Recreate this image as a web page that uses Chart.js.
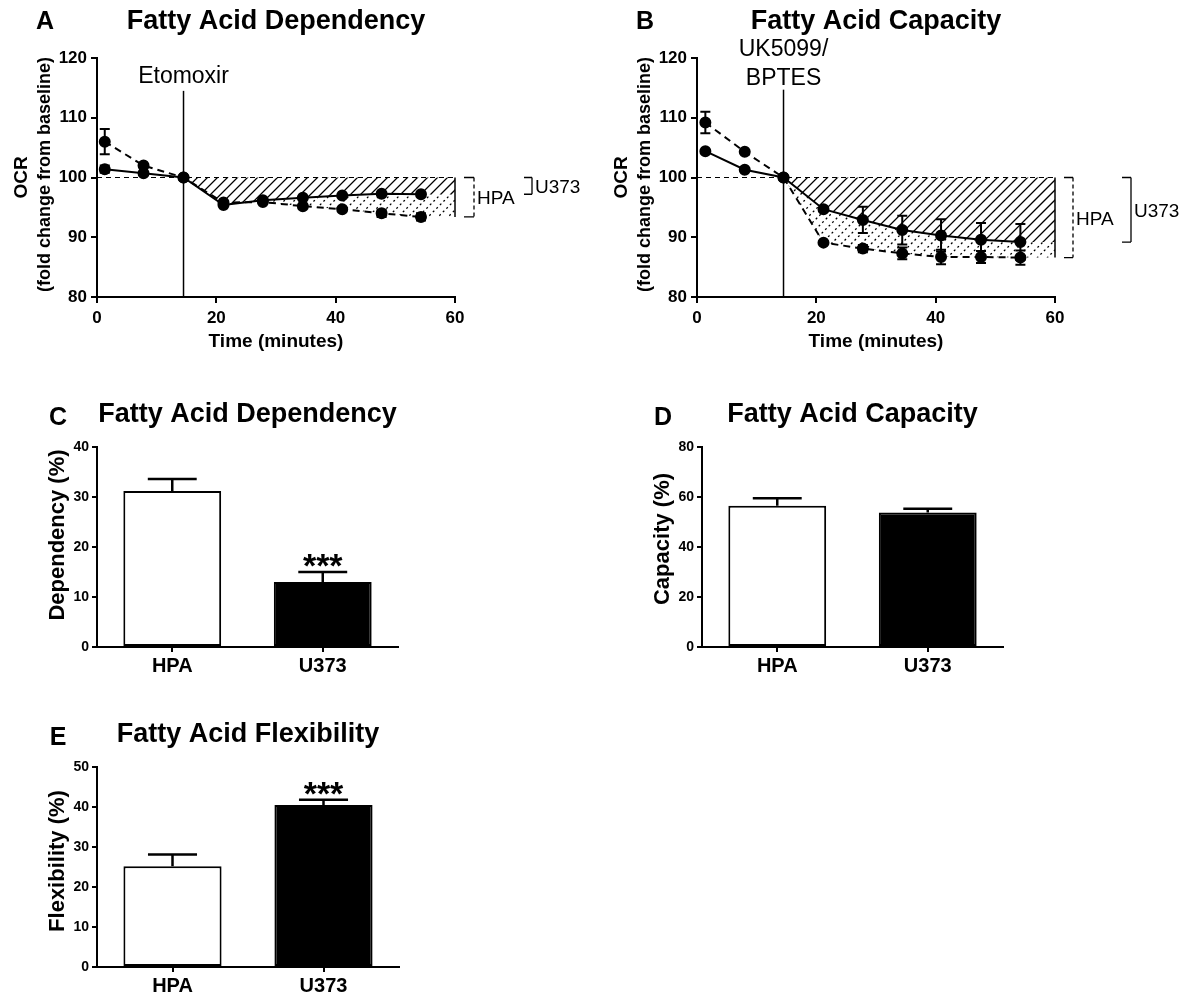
<!DOCTYPE html>
<html><head><meta charset="utf-8">
<script src="https://cdn.jsdelivr.net/npm/chart.js@4.4.1/dist/chart.umd.min.js"></script>
<style>
html,body{margin:0;padding:0;background:#fff;}
#wrap{position:relative;width:1189px;height:996px;overflow:hidden;background:#fff;}
canvas{position:absolute;left:0;top:0;}
</style></head><body>
<div id="wrap">
<canvas id="cA" width="1189" height="996"></canvas>
<canvas id="cB" width="1189" height="996"></canvas>
<canvas id="cC" width="1189" height="996"></canvas>
<canvas id="cD" width="1189" height="996"></canvas>
<canvas id="cE" width="1189" height="996"></canvas>
</div>
<script>
// ---------- data ----------
const timeA = [1.3, 7.8, 14.5, 21.2, 27.8, 34.5, 41.1, 47.7, 54.3];
const hpaA = [106.0, 102.0, 100.0, 95.8, 95.9, 95.2, 94.7, 94.0, 93.4];
const hpaAErr = [2.1, 0.4, 0, 0.3, 0.3, 0.4, 0.3, 0.6, 0.6];
const u373A = [101.4, 100.7, 100.0, 95.4, 96.2, 96.6, 97.0, 97.3, 97.2];
const u373AErr = [0.6, 0.3, 0, 0.3, 0.3, 0.4, 0.3, 0.3, 0.3];

const timeB = [1.4, 8.0, 14.5, 21.2, 27.8, 34.4, 40.9, 47.6, 54.2];
const hpaB = [109.2, 104.3, 100.0, 89.1, 88.1, 87.3, 86.7, 86.7, 86.6];
const hpaBErr = [1.8, 0.4, 0, 0.4, 0.6, 1.0, 1.2, 1.0, 1.2];
const u373B = [104.4, 101.3, 100.0, 94.7, 92.9, 91.2, 90.3, 89.6, 89.2];
const u373BErr = [0.3, 0.3, 0, 0.4, 2.2, 2.4, 2.7, 2.8, 3.0];

const injectionTime = 14.5;
const baselineValue = 100;
const timeTicks = [0, 20, 40, 60];
const ocrTicks = [80, 90, 100, 110, 120];

const cellLines = ['HPA', 'U373'];
const dependency = [31.2, 13.0];
const dependencyErr = [2.4, 2.0];
const dependencySig = ['', '***'];
const dependencyTicks = [0, 10, 20, 30, 40];

const capacity = [56.5, 53.8];
const capacityErr = [3.0, 1.5];
const capacitySig = ['', ''];
const capacityTicks = [0, 20, 40, 60, 80];

const flexibility = [25.2, 40.5];
const flexibilityErr = [2.9, 1.3];
const flexibilitySig = ['', '***'];
const flexibilityTicks = [0, 10, 20, 30, 40, 50];

// ---------- styling ----------
const FF = '"Liberation Sans", Arial, Helvetica, sans-serif';
const W = 1189, H = 996;

function tickSetter(arr) {
  return s => { s.ticks = arr.map(v => ({ value: v })); };
}

function drawText(ctx, txt, x, y, font, align, rot) {
  ctx.save();
  ctx.font = font;
  ctx.fillStyle = '#000';
  ctx.textAlign = align || 'center';
  ctx.textBaseline = 'middle';
  ctx.translate(x, y);
  if (rot) ctx.rotate(rot);
  ctx.fillText(txt, 0, 0);
  ctx.restore();
}

function hatch(ctx, area, pathFn, spacing, dash, lw) {
  ctx.save();
  ctx.beginPath(); pathFn(); ctx.closePath(); ctx.clip();
  ctx.beginPath();
  ctx.setLineDash(dash); ctx.lineWidth = lw; ctx.strokeStyle = '#000';
  const h = area.bottom - area.top;
  for (let x = area.left - h; x < area.right + h; x += spacing) {
    ctx.moveTo(x, area.bottom); ctx.lineTo(x + h, area.top);
  }
  ctx.stroke(); ctx.restore();
}

function linePanel(id, box, cfg) {
  const Wy = 60, Hx = 45;
  const mk = (t, v) => t.map((x, i) => ({ x: x, y: v[i] }));
  new Chart(document.getElementById(id), {
    type: 'line',
    data: {
      datasets: [
        { label: 'U373', data: mk(cfg.time, cfg.u373), borderColor: '#000', borderWidth: 2,
          pointRadius: 5, pointBackgroundColor: '#000', pointBorderColor: '#000', fill: false, tension: 0 },
        { label: 'HPA', data: mk(cfg.time, cfg.hpa), borderColor: '#000', borderWidth: 2, borderDash: [7, 5],
          pointRadius: 5, pointBackgroundColor: '#000', pointBorderColor: '#000', fill: false, tension: 0 }
      ]
    },
    options: {
      responsive: false, animation: false, devicePixelRatio: 1,
      layout: { padding: { left: box.l - Wy, top: box.t, right: W - box.r, bottom: H - box.b - Hx } },
      plugins: { legend: { display: false }, tooltip: { enabled: false }, title: { display: false } },
      scales: {
        x: {
          type: 'linear', min: 0, max: 60,
          afterBuildTicks: tickSetter(timeTicks),
          afterFit: s => { s.height = Hx; s.paddingLeft = 0; s.paddingRight = 0; },
          grid: { drawOnChartArea: false, drawTicks: true, tickLength: 6, color: '#000', lineWidth: 2 },
          border: { color: '#000', width: 2 },
          ticks: { color: '#000', font: { family: FF, size: 17, weight: 'bold' }, padding: 5, maxRotation: 0 }
        },
        y: {
          type: 'linear', min: 80, max: 120,
          afterBuildTicks: tickSetter(ocrTicks),
          afterFit: s => { s.width = Wy; s.paddingTop = 0; s.paddingBottom = 0; },
          grid: { drawOnChartArea: false, drawTicks: true, tickLength: 6, color: '#000', lineWidth: 2 },
          border: { color: '#000', width: 2 },
          ticks: { color: '#000', font: { family: FF, size: 17, weight: 'bold' }, padding: 4 }
        }
      }
    },
    plugins: [{
      id: 'deco' + id,
      beforeDatasetsDraw(chart) {
        const ctx = chart.ctx, xs = chart.scales.x, ys = chart.scales.y, a = chart.chartArea;
        const px = v => xs.getPixelForValue(v), py = v => ys.getPixelForValue(v);
        const i0 = cfg.time.indexOf(injectionTime);
        const uPts = cfg.time.slice(i0).map((t, k) => [px(t), py(cfg.u373[i0 + k])]);
        const hPts = cfg.time.slice(i0).map((t, k) => [px(t), py(cfg.hpa[i0 + k])]);
        const uLast = cfg.u373[cfg.u373.length - 1], hLast = cfg.hpa[cfg.hpa.length - 1];
        uPts.push([px(60), py(uLast)]);
        hPts.push([px(60), py(hLast)]);
        // diagonal hatch between baseline and U373 line
        hatch(ctx, a, () => {
          ctx.moveTo(px(injectionTime), py(baselineValue));
          ctx.lineTo(px(60), py(baselineValue));
          for (let k = uPts.length - 1; k >= 0; k--) ctx.lineTo(uPts[k][0], uPts[k][1]);
        }, 10, [], 1.3);
        // dotted hatch between U373 and HPA lines
        hatch(ctx, a, () => {
          ctx.moveTo(uPts[0][0], uPts[0][1]);
          for (let k = 1; k < uPts.length; k++) ctx.lineTo(uPts[k][0], uPts[k][1]);
          for (let k = hPts.length - 1; k >= 0; k--) ctx.lineTo(hPts[k][0], hPts[k][1]);
        }, 10, [2, 3], 1.3);
        ctx.save();
        ctx.strokeStyle = '#000';
        // baseline dashed
        ctx.lineWidth = 1.2; ctx.setLineDash([5, 4]);
        ctx.beginPath(); ctx.moveTo(px(0), py(baselineValue)); ctx.lineTo(px(60), py(baselineValue)); ctx.stroke();
        ctx.setLineDash([]);
        // right edge
        ctx.lineWidth = 1.5;
        ctx.beginPath(); ctx.moveTo(px(60), py(baselineValue)); ctx.lineTo(px(60), py(Math.min(uLast, hLast))); ctx.stroke();
        // injection line
        ctx.beginPath(); ctx.moveTo(px(injectionTime), py(cfg.injTop)); ctx.lineTo(px(injectionTime), py(80)); ctx.stroke();
        ctx.restore();
      },
      afterDatasetsDraw(chart) {
        const ctx = chart.ctx, xs = chart.scales.x, ys = chart.scales.y, a = chart.chartArea;
        const px = v => xs.getPixelForValue(v), py = v => ys.getPixelForValue(v);
        ctx.save();
        ctx.strokeStyle = '#000'; ctx.lineWidth = 2;
        const eb = (t, v, e) => {
          if (e < 0.45) return;
          const x = px(t), y1 = py(v + e), y2 = py(v - e);
          ctx.beginPath();
          ctx.moveTo(x, y1); ctx.lineTo(x, y2);
          ctx.moveTo(x - 5, y1); ctx.lineTo(x + 5, y1);
          ctx.moveTo(x - 5, y2); ctx.lineTo(x + 5, y2);
          ctx.stroke();
        };
        cfg.time.forEach((t, i) => { eb(t, cfg.hpa[i], cfg.hpaErr[i]); eb(t, cfg.u373[i], cfg.u373Err[i]); });
        // brackets
        const uLast = cfg.u373[cfg.u373.length - 1], hLast = cfg.hpa[cfg.hpa.length - 1];
        const br = (x0, x1, v1, dashed) => {
          ctx.save();
          ctx.lineWidth = 1.3;
          ctx.beginPath();
          ctx.moveTo(x0, py(baselineValue)); ctx.lineTo(x1, py(baselineValue));
          ctx.moveTo(x0, py(v1)); ctx.lineTo(x1, py(v1));
          ctx.stroke();
          if (dashed) ctx.setLineDash([4, 3]);
          ctx.beginPath(); ctx.moveTo(x1, py(baselineValue)); ctx.lineTo(x1, py(v1)); ctx.stroke();
          ctx.restore();
        };
        br(a.right + cfg.br.h0, a.right + cfg.br.h1, hLast, true);
        br(a.right + cfg.br.u0, a.right + cfg.br.u1, uLast, false);
        const afont = '19px ' + FF;
        drawText(ctx, 'HPA', a.right + cfg.br.h1 + 3, (py(baselineValue) + py(hLast)) / 2 + 2, afont, 'left');
        drawText(ctx, 'U373', a.right + cfg.br.u1 + 3, (py(baselineValue) + py(uLast)) / 2 + 2, afont, 'left');
        // injection labels
        const lx = px(injectionTime);
        cfg.injLabel.forEach((s, k) => drawText(ctx, s, lx, cfg.injLabelY[k], '23px ' + FF, 'center'));
        // titles
        drawText(ctx, cfg.title, (a.left + a.right) / 2, 22, 'bold 27px ' + FF, 'center');
        drawText(ctx, cfg.letter, a.left - 52, 22, 'bold 25px ' + FF, 'center');
        drawText(ctx, 'Time (minutes)', (a.left + a.right) / 2, a.bottom + 45, 'bold 19px ' + FF, 'center');
        const cy = (a.top + a.bottom) / 2;
        drawText(ctx, 'OCR', a.left - 75, cy, 'bold 19px ' + FF, 'center', -Math.PI / 2);
        drawText(ctx, '(fold change from baseline)', a.left - 52, cy - 3, 'bold 18px ' + FF, 'center', -Math.PI / 2);
        ctx.restore();
      }
    }]
  });
}

function barPanel(id, box, cfg) {
  const Wy = 50, Hx = 40;
  new Chart(document.getElementById(id), {
    type: 'bar',
    data: {
      labels: cellLines,
      datasets: [{ data: cfg.values, backgroundColor: ['#fff', '#000'], borderColor: '#000', borderWidth: 2,
        borderSkipped: false, barPercentage: 0.65, categoryPercentage: 1 }]
    },
    options: {
      responsive: false, animation: false, devicePixelRatio: 1,
      layout: { padding: { left: box.l - Wy, top: box.t, right: W - box.r, bottom: H - box.b - Hx } },
      plugins: { legend: { display: false }, tooltip: { enabled: false }, title: { display: false } },
      scales: {
        x: {
          afterFit: s => { s.height = Hx; s.paddingLeft = 0; s.paddingRight = 0; },
          grid: { offset: false, drawOnChartArea: false, drawTicks: true, tickLength: 5, color: '#000', lineWidth: 2 },
          border: { color: '#000', width: 2 },
          ticks: { color: '#000', font: { family: FF, size: 20, weight: 'bold' }, padding: 2, maxRotation: 0 }
        },
        y: {
          min: 0, max: cfg.ticks[cfg.ticks.length - 1],
          afterBuildTicks: tickSetter(cfg.ticks),
          afterFit: s => { s.width = Wy; s.paddingTop = 0; s.paddingBottom = 0; },
          grid: { drawOnChartArea: false, drawTicks: true, tickLength: 5, color: '#000', lineWidth: 2 },
          border: { color: '#000', width: 2 },
          ticks: { color: '#000', font: { family: FF, size: 14, weight: 'bold' }, padding: 3 }
        }
      }
    },
    plugins: [{
      id: 'deco' + id,
      afterDatasetsDraw(chart) {
        const ctx = chart.ctx, a = chart.chartArea, ys = chart.scales.y;
        const meta = chart.getDatasetMeta(0);
        ctx.save();
        ctx.strokeStyle = '#000'; ctx.lineWidth = 2.5;
        meta.data.forEach((bar, i) => {
          const v = cfg.values[i], e = cfg.errs[i];
          const x = bar.x, half = bar.width / 4;
          const yTop = ys.getPixelForValue(v), yCap = ys.getPixelForValue(v + e);
          ctx.beginPath();
          ctx.moveTo(x, yTop); ctx.lineTo(x, yCap);
          ctx.moveTo(x - half, yCap); ctx.lineTo(x + half, yCap);
          ctx.stroke();
          if (cfg.sig[i]) drawText(ctx, cfg.sig[i], x, yCap - 12 + 8, 'bold 34px ' + FF, 'center');
        });
        drawText(ctx, cfg.title, (a.left + a.right) / 2, a.top - 32, 'bold 27px ' + FF, 'center');
        drawText(ctx, cfg.letter, a.left - 39, a.top - 29, 'bold 25px ' + FF, 'center');
        drawText(ctx, cfg.ylabel, a.left - 39, cfg.ylabelY, 'bold 22px ' + FF, 'center', -Math.PI / 2);
        ctx.restore();
      }
    }]
  });
}

linePanel('cA', { l: 97, r: 455, t: 58, b: 297 }, {
  time: timeA, hpa: hpaA, hpaErr: hpaAErr, u373: u373A, u373Err: u373AErr,
  injTop: 114.5, injLabel: ['Etomoxir'], injLabelY: [77],
  title: 'Fatty Acid Dependency', letter: 'A',
  br: { h0: 9, h1: 19, u0: 69, u1: 77 }
});
linePanel('cB', { l: 697, r: 1055, t: 58, b: 297 }, {
  time: timeB, hpa: hpaB, hpaErr: hpaBErr, u373: u373B, u373Err: u373BErr,
  injTop: 114.7, injLabel: ['UK5099/', 'BPTES'], injLabelY: [50, 79],
  title: 'Fatty Acid Capacity', letter: 'B',
  br: { h0: 9, h1: 18, u0: 67, u1: 76 }
});
barPanel('cC', { l: 97, r: 398, t: 447, b: 647 }, {
  values: dependency, errs: dependencyErr, sig: dependencySig, ticks: dependencyTicks,
  title: 'Fatty Acid Dependency', letter: 'C', ylabel: 'Dependency (%)', ylabelY: 535
});
barPanel('cD', { l: 702, r: 1003, t: 447, b: 647 }, {
  values: capacity, errs: capacityErr, sig: capacitySig, ticks: capacityTicks,
  title: 'Fatty Acid Capacity', letter: 'D', ylabel: 'Capacity (%)', ylabelY: 539
});
barPanel('cE', { l: 97, r: 399, t: 767, b: 967 }, {
  values: flexibility, errs: flexibilityErr, sig: flexibilitySig, ticks: flexibilityTicks,
  title: 'Fatty Acid Flexibility', letter: 'E', ylabel: 'Flexibility (%)', ylabelY: 861
});
</script>
</body></html>
